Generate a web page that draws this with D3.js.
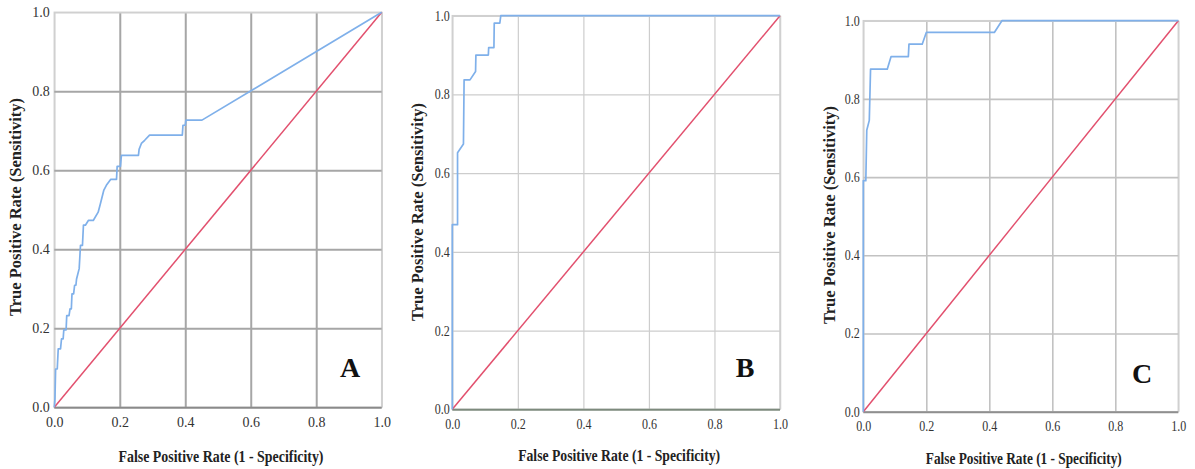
<!DOCTYPE html>
<html>
<head>
<meta charset="utf-8">
<script src="https://cdn.jsdelivr.net/npm/d3@7"></script>
<style>
  body { margin: 0; background: #fff; }
  text { font-family: "Liberation Serif", "Times New Roman", serif; fill: #222; }
</style>
</head>
<body>
<script>
// ROC curve points (false positive rate / true positive rate)
var fprA = [0, 0.002, 0.004, 0.009, 0.012, 0.019, 0.022, 0.027, 0.029, 0.036, 0.038, 0.045, 0.048, 0.052, 0.054, 0.059, 0.062, 0.066, 0.068, 0.076, 0.080, 0.086, 0.089, 0.095, 0.104, 0.119, 0.134, 0.141, 0.151, 0.159, 0.172, 0.190, 0.192, 0.202, 0.205, 0.257, 0.259, 0.266, 0.276, 0.291, 0.391, 0.393, 0.400, 0.402, 0.451, 1];
var tprA = [0, 0.021, 0.097, 0.097, 0.148, 0.148, 0.173, 0.173, 0.196, 0.196, 0.232, 0.232, 0.249, 0.249, 0.287, 0.287, 0.309, 0.309, 0.325, 0.351, 0.410, 0.410, 0.461, 0.461, 0.473, 0.473, 0.494, 0.516, 0.549, 0.562, 0.577, 0.577, 0.610, 0.610, 0.638, 0.638, 0.653, 0.668, 0.676, 0.689, 0.689, 0.714, 0.714, 0.727, 0.727, 1];

var fprB = [0, 0, 0.016, 0.016, 0.034, 0.036, 0.054, 0.071, 0.072, 0.110, 0.111, 0.127, 0.128, 0.145, 0.148, 1];
var tprB = [0, 0.469, 0.469, 0.652, 0.674, 0.837, 0.837, 0.858, 0.900, 0.900, 0.919, 0.919, 0.981, 0.981, 1, 1];

var fprC = [0, 0, 0.008, 0.011, 0.019, 0.023, 0.076, 0.088, 0.143, 0.145, 0.187, 0.200, 0.416, 0.440, 1];
var tprC = [0, 0.591, 0.591, 0.720, 0.745, 0.876, 0.876, 0.908, 0.908, 0.940, 0.940, 0.970, 0.970, 1, 1];

// reference diagonal
var diagX = [0, 1];
var diagY = [0, 1];

var tickValues = [0, 0.2, 0.4, 0.6, 0.8, 1.0];
var panelLetters = ["A", "B", "C"];
var xTitles = ["False Positive Rate  (1 - Specificity)", "False Positive Rate (1 - Specificity)", "False Positive Rate (1 - Specificity)"];
var yTitle = "True Positive Rate (Sensitivity)";

var W = 1195, H = 469;
var svg = d3.select("body").append("svg")
    .attr("width", W)
    .attr("height", H);

// layout of each of the three panels
var panels = [
    {fpr: fprA, tpr: tprA, left: 54.3, right: 381.7, top: 12.3, bottom: 407.3,
     grid: "#a6a6a6", gridW: 2, axis: "#8a8a8a", xPad: 10, yPad: 4.5, tickLen: null,
     xTitleY: 462, xTitleW: 205, yTitleX: 15, yTitleC: 207, letterX: 350, letterY: 377},
    {fpr: fprB, tpr: tprB, left: 452.3, right: 780, top: 15.7, bottom: 409.3,
     grid: "#cdcdcd", gridW: 1.2, axis: "#7d8a7d", xPad: 9.5, yPad: 2.5, tickLen: 15,
     xTitleY: 461, xTitleW: 202, yTitleX: 417, yTitleC: 212, letterX: 745, letterY: 377},
    {fpr: fprC, tpr: tprC, left: 863.3, right: 1178.3, top: 20.7, bottom: 411.7,
     grid: "#c2c2c2", gridW: 1.6, axis: "#8f8f8f", xPad: 9, yPad: 3.5, tickLen: 15,
     xTitleY: 464, xTitleW: 196, yTitleX: 829, yTitleC: 215, letterX: 1142, letterY: 383}
];

panels.forEach(function(p, i){
    var w = p.right - p.left, h = p.bottom - p.top;
    var g = svg.append("g")
        .attr("class", "panel")
        .attr("transform", "translate(" + p.left + "," + p.top + ")");

    var x = d3.scaleLinear().domain([0, 1]).range([0, w]);
    var y = d3.scaleLinear().domain([0, 1]).range([h, 0]);

    // frame
    g.append("rect")
        .attr("width", w)
        .attr("height", h)
        .style("fill", "none")
        .style("stroke", "#d0d0d0")
        .style("stroke-width", 1.5);

    // x axis with vertical grid lines
    var xAxis = g.append("g")
        .attr("class", "x axis")
        .attr("transform", "translate(0," + h + ")")
        .call(d3.axisBottom(x).tickValues(tickValues).tickFormat(d3.format(".1f"))
            .tickSizeInner(-h).tickSizeOuter(0).tickPadding(p.xPad));
    // y axis with horizontal grid lines
    var yAxis = g.append("g")
        .attr("class", "y axis")
        .call(d3.axisLeft(y).tickValues(tickValues).tickFormat(d3.format(".1f"))
            .tickSizeInner(-w).tickSizeOuter(0).tickPadding(p.yPad));

    [xAxis, yAxis].forEach(function(a){
        a.attr("font-family", null).attr("font-size", null);
        a.select(".domain").remove();
        a.selectAll("line")
            .style("stroke", p.grid)
            .style("stroke-width", p.gridW);
        a.selectAll("text")
            .style("font-family", "'Liberation Serif', serif")
            .style("font-size", "14px")
            .style("fill", "#333");
        if (p.tickLen) {
            a.selectAll("text")
                .attr("textLength", p.tickLen)
                .attr("lengthAdjust", "spacingAndGlyphs");
        }
    });
    // keep the end grid lines (frame) light
    xAxis.selectAll(".tick line").filter(function(d){ return d === 0 || d === 1; })
        .style("stroke", "#d0d0d0").style("stroke-width", 1.5);
    yAxis.selectAll(".tick line").filter(function(d){ return d === 1; })
        .style("stroke", "#d0d0d0").style("stroke-width", 1.5);
    yAxis.selectAll(".tick line").filter(function(d){ return d === 0; })
        .style("stroke", p.axis).style("stroke-width", 2);

    // diagonal reference line
    var line = d3.line()
        .x(function(d){ return x(d[0]); })
        .y(function(d){ return y(d[1]); });

    g.append("path")
        .datum(d3.zip(diagX, diagY))
        .attr("class", "diag")
        .attr("d", line)
        .style("fill", "none")
        .style("stroke", "#e2506e")
        .style("stroke-width", 1.5);

    // ROC curve
    g.append("path")
        .datum(d3.zip(p.fpr, p.tpr))
        .attr("class", "roc")
        .attr("d", line)
        .style("fill", "none")
        .style("stroke", "#7fb0ea")
        .style("stroke-width", 1.7)
        .style("stroke-linejoin", "round");

    // axis titles
    svg.append("text")
        .attr("class", "xtitle")
        .attr("x", (p.left + p.right) / 2 + 3)
        .attr("y", p.xTitleY)
        .attr("text-anchor", "middle")
        .attr("textLength", p.xTitleW)
        .attr("lengthAdjust", "spacingAndGlyphs")
        .style("font-weight", "bold")
        .style("font-size", "17px")
        .text(xTitles[i]);

    svg.append("text")
        .attr("class", "ytitle")
        .attr("transform", "translate(" + (p.yTitleX + 6) + "," + p.yTitleC + ") rotate(-90)")
        .attr("text-anchor", "middle")
        .attr("textLength", 218)
        .attr("lengthAdjust", "spacingAndGlyphs")
        .style("font-weight", "bold")
        .style("font-size", "17px")
        .text(yTitle);

    // panel letter
    svg.append("text")
        .attr("class", "letter")
        .attr("x", p.letterX)
        .attr("y", p.letterY)
        .attr("text-anchor", "middle")
        .style("font-weight", "bold")
        .style("font-size", "28px")
        .style("fill", "#111")
        .text(panelLetters[i]);
});
</script>
</body>
</html>
